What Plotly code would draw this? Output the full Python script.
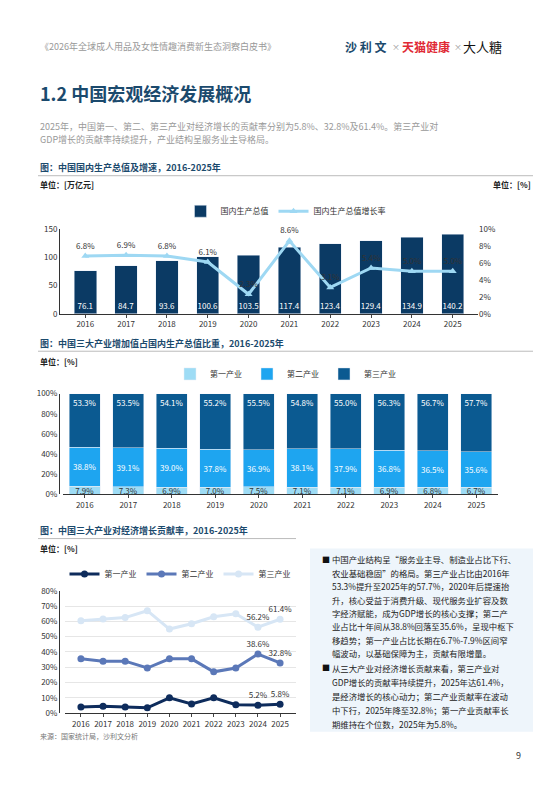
import plotly.graph_objects as go

years = ["2016","2017","2018","2019","2020","2021","2022","2023","2024","2025"]
gdp = [76.1, 84.7, 93.6, 100.6, 103.5, 117.4, 123.4, 129.4, 134.9, 140.2]
gdp_growth = [6.8, 6.9, 6.8, 6.1, 2.3, 8.6, 3.1, 5.4, 5.0, 5.0]
share_1 = [7.9, 7.3, 6.9, 7.0, 7.5, 7.1, 7.1, 6.9, 6.8, 6.7]
share_2 = [38.8, 39.1, 39.0, 37.8, 36.9, 38.1, 37.9, 36.8, 36.5, 35.6]
share_3 = [53.3, 53.5, 54.1, 55.2, 55.5, 54.8, 55.0, 56.3, 56.7, 57.7]
contrib_1 = [4.0, 4.5, 4.0, 3.5, 10.0, 6.0, 10.0, 5.5, 5.2, 5.8]
contrib_2 = [35.5, 34.0, 34.0, 29.5, 35.5, 35.5, 27.0, 29.5, 38.6, 32.8]
contrib_3 = [60.5, 61.5, 62.5, 67.0, 55.0, 58.5, 63.0, 65.0, 56.2, 61.4]

W, H = 555, 788
def px(x): return x / W
def py(y): return 1 - y / H

FONT = "Noto Sans CJK SC"
fig = go.Figure()

# Chart 1
fig.add_trace(go.Bar(x=years, y=gdp, name="国内生产总值", marker_color="#0b3a64", width=0.55,
                     text=[f"{v:.1f}" for v in gdp], textposition="inside", insidetextanchor="start",
                     textangle=0, constraintext="none",
                     textfont=dict(color="white", size=8), xaxis="x", yaxis="y", legend="legend"))
fig.add_trace(go.Scatter(x=years, y=gdp_growth, name="国内生产总值增长率", mode="lines+markers+text",
                         line=dict(color="#9ed8f3", width=3), marker=dict(symbol="triangle-up", size=7),
                         text=[f"{v:.1f}%" for v in gdp_growth], textposition="top center", cliponaxis=False,
                         textfont=dict(size=8, color="#333"), xaxis="x", yaxis="y2", legend="legend"))

# Chart 2
for name, vals, col, tc, anchor in [("第一产业", share_1, "#9edcf5", "#333", "middle"),
                                     ("第二产业", share_2, "#1ea5f0", "white", "middle"),
                                     ("第三产业", share_3, "#0b5a91", "white", "end")]:
    fig.add_trace(go.Bar(x=years, y=vals, name=name, marker_color=col, width=0.72,
                         text=[f"{v:.1f}%" for v in vals], textposition="inside", insidetextanchor=anchor,
                         textangle=0, constraintext="none",
                         textfont=dict(size=8, color=tc), xaxis="x3", yaxis="y3", legend="legend2"))

# Chart 3
def lbl(vals):
    return ["" if i < 8 else f"{v:.1f}%" for i, v in enumerate(vals)]
for name, vals, col in [("第一产业", contrib_1, "#0e2c5c"), ("第二产业", contrib_2, "#5b78b8"),
                        ("第三产业", contrib_3, "#d7e6f5")]:
    fig.add_trace(go.Scatter(x=years, y=vals, name=name, mode="lines+markers+text",
                             line=dict(color=col, width=3), marker=dict(size=7, color=col),
                             text=lbl(vals), textposition="top center", textfont=dict(size=8, color="#333"),
                             cliponaxis=False, xaxis="x4", yaxis="y4", legend="legend3"))

axfont = dict(size=8, color="#333")
fig.update_layout(
    width=W, height=H, margin=dict(l=0, r=0, t=0, b=0), paper_bgcolor="white", plot_bgcolor="white",
    font=dict(family=FONT, size=9, color="#333"), barmode="stack", showlegend=True,
    uniformtext=dict(minsize=8, mode="show"),
    xaxis=dict(domain=[px(52), px(470)], anchor="y", tickfont=axfont, showline=True, linecolor="#333", ticks="outside", ticklen=3),
    yaxis=dict(domain=[py(304), py(218)], range=[0, 150], dtick=50, tickfont=axfont, showgrid=False, showline=True, linecolor="#333"),
    yaxis2=dict(overlaying="y", side="right", range=[0, 10], dtick=2, ticksuffix="%", tickfont=axfont, showgrid=False, anchor="x"),
    xaxis3=dict(domain=[px(55), px(490)], anchor="y3", tickfont=axfont, showline=True, linecolor="#333", ticks="outside", ticklen=3),
    yaxis3=dict(domain=[py(487), py(385)], range=[0, 100], dtick=20, ticksuffix="%", tickfont=axfont, showgrid=False, showline=True, linecolor="#333"),
    xaxis4=dict(domain=[px(57), px(288)], anchor="y4", tickfont=axfont, showline=True, linecolor="#333", ticks="outside", ticklen=3),
    yaxis4=dict(domain=[py(709), py(585)], range=[0, 80], dtick=10, ticksuffix="%", tickfont=axfont, showgrid=True, gridcolor="#e6e6e6", showline=True, linecolor="#333"),
    legend=dict(orientation="h", traceorder="normal", x=0.5, xanchor="center", y=py(200), yanchor="middle", font=dict(size=8)),
    legend2=dict(orientation="h", traceorder="normal", x=0.5, xanchor="center", y=py(365), yanchor="middle", font=dict(size=8)),
    legend3=dict(orientation="h", traceorder="normal", x=px(172), xanchor="center", y=py(568), yanchor="middle", font=dict(size=8)),
)

anns = [
    dict(x=px(30), y=py(33), text="《2026年全球成人用品及女性情趣消费新生态洞察白皮书》", size=9, color="#999", xa="left"),
    dict(x=px(335), y=py(33), text="<b>沙 利 文</b>", size=12, color="#1b4a6d", xa="left"),
    dict(x=px(382), y=py(33), text="×", size=8, color="#999", xa="left"),
    dict(x=px(392), y=py(33), text="<b>天猫健康</b>", size=12, color="#e02a35", xa="left"),
    dict(x=px(444), y=py(33), text="×", size=8, color="#999", xa="left"),
    dict(x=px(453), y=py(33), text="大人糖", size=13, color="#111", xa="left"),
    dict(x=px(30), y=py(80), text="<b>1.2 中国宏观经济发展概况</b>", size=18, color="#1b4a6d", xa="left"),
    dict(x=px(30), y=py(114), text="2025年，中国第一、第二、第三产业对经济增长的贡献率分别为5.8%、32.8%及61.4%。第三产业对", size=9, color="#999", xa="left"),
    dict(x=px(30), y=py(127), text="GDP增长的贡献率持续提升，产业结构呈服务业主导格局。", size=9, color="#999", xa="left"),
    dict(x=px(30), y=py(156), text="<b>图：中国国内生产总值及增速，2016-2025年</b>", size=9, color="#1b4a6d", xa="left"),
    dict(x=px(30), y=py(173), text="<b>单位：[万亿元]</b>", size=8, color="#222", xa="left"),
    dict(x=px(525), y=py(173), text="<b>单位：[%]</b>", size=8, color="#222", xa="right"),
    dict(x=px(30), y=py(334), text="<b>图：中国三大产业增加值占国内生产总值比重，2016-2025年</b>", size=9, color="#1b4a6d", xa="left"),
    dict(x=px(30), y=py(352), text="<b>单位：[%]</b>", size=8, color="#222", xa="left"),
    dict(x=px(30), y=py(524), text="<b>图：中国三大产业对经济增长贡献率，2016-2025年</b>", size=9, color="#1b4a6d", xa="left"),
    dict(x=px(30), y=py(542), text="<b>单位：[%]</b>", size=8, color="#222", xa="left"),
    dict(x=px(30), y=py(732), text="来源：国家统计局，沙利文分析", size=7, color="#777", xa="left"),
    dict(x=px(515), y=py(752), text="9", size=9, color="#333", xa="right"),
    dict(x=px(312), y=py(553), text="■", size=8, color="#111", xa="left"),
    dict(x=px(312), y=py(663), text="■", size=8, color="#111", xa="left"),
]
bullet1 = ["中国产业结构呈“服务业主导、制造业占比下行、", "农业基础稳固”的格局。第三产业占比由2016年",
           "53.3%提升至2025年的57.7%，2020年后提速抬", "升，核心受益于消费升级、现代服务业扩容及数",
           "字经济赋能，成为GDP增长的核心支撑；第二产", "业占比十年间从38.8%回落至35.6%，呈现中枢下",
           "移趋势；第一产业占比长期在6.7%-7.9%区间窄", "幅波动，以基础保障为主，贡献有限增量。"]
bullet2 = ["从三大产业对经济增长贡献来看，第三产业对", "GDP增长的贡献率持续提升，2025年达61.4%，",
           "是经济增长的核心动力；第二产业贡献率在波动", "中下行，2025年降至32.8%；第一产业贡献率长",
           "期维持在个位数，2025年为5.8%。"]
for i, t in enumerate(bullet1):
    anns.append(dict(x=px(322), y=py(553 + i * 13.6), text=t, size=8.4, color="#222", xa="left"))
for i, t in enumerate(bullet2):
    anns.append(dict(x=px(322), y=py(663 + i * 14.2), text=t, size=8.4, color="#222", xa="left"))

fig.update_layout(annotations=[dict(x=a["x"], y=a["y"], xref="paper", yref="paper", text=a["text"],
                                     showarrow=False, xanchor=a["xa"], yanchor="middle", align="left",
                                     font=dict(size=a["size"], color=a["color"], family=FONT)) for a in anns])
line = dict(color="#bbb", width=1)
fig.update_layout(shapes=[
    dict(type="line", xref="paper", yref="paper", x0=px(30), x1=px(525), y0=py(164), y1=py(164), line=line),
    dict(type="line", xref="paper", yref="paper", x0=px(30), x1=px(525), y0=py(342), y1=py(342), line=line),
    dict(type="line", xref="paper", yref="paper", x0=px(30), x1=px(288), y0=py(532), y1=py(532), line=line),
    dict(type="rect", xref="paper", yref="paper", x0=px(302), x1=px(525), y0=py(542), y1=py(728),
         fillcolor="#eef5fb", line=dict(width=0), layer="below"),
])
fig.write_html("out.html")
